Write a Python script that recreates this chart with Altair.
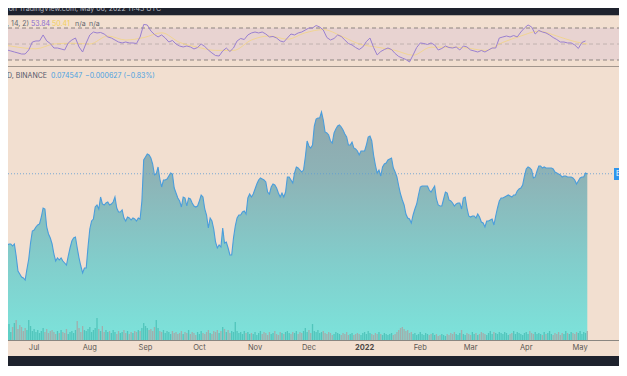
import altair as alt
import pandas as pd

START = "2021-06-12"

# ETH/BTC daily close, from 2021-06-12
price = [
    0.0657, 0.0631, 0.0623, 0.0615, 0.0603, 0.0605, 0.0605, 0.0601, 0.0605, 0.0581,
    0.0551, 0.0545, 0.0539, 0.0537, 0.0533, 0.0555, 0.0575, 0.0607, 0.0631, 0.0633,
    0.0639, 0.0643, 0.0645, 0.0659, 0.0677, 0.0675, 0.0639, 0.0625, 0.0617, 0.0605,
    0.0585, 0.0571, 0.0577, 0.0573, 0.0577, 0.0571, 0.0567, 0.0563, 0.0581, 0.0597,
    0.0611, 0.0617, 0.0619, 0.0597, 0.0577, 0.0561, 0.0547, 0.0557, 0.0557, 0.0599,
    0.0635, 0.0651, 0.0655, 0.0679, 0.0683, 0.0675, 0.0699, 0.0685, 0.0683, 0.0687,
    0.0689, 0.0683, 0.0685, 0.0689, 0.0699, 0.0677, 0.0669, 0.0669, 0.0673, 0.0657,
    0.0651, 0.0659, 0.0657, 0.0653, 0.0657, 0.0655, 0.0651, 0.0657, 0.0655, 0.0691,
    0.0773, 0.0779, 0.0785, 0.0783, 0.0777, 0.0765, 0.0743, 0.0745, 0.0759, 0.0735,
    0.0719, 0.0733, 0.0733, 0.0735, 0.0741, 0.0747, 0.0745, 0.0717, 0.0707, 0.0697,
    0.0691, 0.0679, 0.0699, 0.0697, 0.0681, 0.0697, 0.0695, 0.0687, 0.0681, 0.0679,
    0.0681, 0.0691, 0.0703, 0.0699, 0.0675, 0.0663, 0.0637, 0.0657, 0.0651, 0.0635,
    0.0609, 0.0597, 0.0603, 0.0599, 0.0637, 0.0607, 0.0609, 0.0597, 0.0583, 0.0583,
    0.0617, 0.0641, 0.0657, 0.0663, 0.0663, 0.0669, 0.0671, 0.0665, 0.0697, 0.0705,
    0.0699, 0.0705, 0.0715, 0.0725, 0.0733, 0.0737, 0.0735, 0.0733, 0.0729, 0.0709,
    0.0705, 0.0719, 0.0725, 0.0723, 0.0717, 0.0707, 0.0699, 0.0707, 0.0699, 0.0709,
    0.0739, 0.0739, 0.0733, 0.0727, 0.0747, 0.0759, 0.0757, 0.0753, 0.0749, 0.0753,
    0.0779, 0.0811, 0.0801, 0.0797, 0.0803, 0.0841, 0.0855, 0.0857, 0.0857, 0.0869,
    0.0853, 0.0829, 0.0827, 0.0823, 0.0811, 0.0807, 0.0827, 0.0835, 0.0841, 0.0843,
    0.0839, 0.0833, 0.0825, 0.0819, 0.0803, 0.0803, 0.0809, 0.0797, 0.0795, 0.0791,
    0.0783, 0.0791, 0.0791, 0.0791, 0.0803, 0.0819, 0.0821, 0.0811, 0.0783, 0.0763,
    0.0747, 0.0753, 0.0741, 0.0759, 0.0765, 0.0767, 0.0773, 0.0775, 0.0777, 0.0757,
    0.0749, 0.0739, 0.0721, 0.0705, 0.0693, 0.0683, 0.0665, 0.0657, 0.0655, 0.0647,
    0.0663, 0.0675, 0.0685, 0.0703, 0.0719, 0.0721, 0.0721, 0.0721, 0.0721, 0.0713,
    0.0709, 0.0715, 0.0721, 0.0695, 0.0683, 0.0681, 0.0681, 0.0695, 0.0709, 0.0707,
    0.0693, 0.0691, 0.0687, 0.0681, 0.0685, 0.0687, 0.0687, 0.0675, 0.0697, 0.0699,
    0.0677, 0.0661, 0.0659, 0.0661, 0.0661, 0.0657, 0.0665, 0.0659, 0.0649, 0.0647,
    0.0639, 0.0651, 0.0651, 0.0653, 0.0655, 0.0643, 0.0661, 0.0677, 0.0691, 0.0697,
    0.0697, 0.0699, 0.0701, 0.0703, 0.0701, 0.0699, 0.0703, 0.0703, 0.0711, 0.0715,
    0.0717, 0.0723, 0.0741, 0.0755, 0.0759, 0.0757, 0.0753, 0.0737, 0.0739, 0.0751,
    0.0761, 0.0761, 0.0757, 0.0759, 0.0757, 0.0757, 0.0757, 0.0757, 0.0755, 0.0749,
    0.0747, 0.0745, 0.0743, 0.0739, 0.0741, 0.0741, 0.0739, 0.0739, 0.0739, 0.0737,
    0.0733, 0.0725, 0.0731, 0.0737, 0.0739, 0.0739, 0.0747, 0.0745,
]

# daily volume (thousand ETH, estimated)
volume = [
    240, 200, 280, 180, 220, 320, 160, 260, 340, 400, 220, 300, 260, 180, 240, 200, 400, 280, 180, 220,
    160, 200, 140, 180, 240, 160, 220, 140, 180, 200, 160, 120, 180, 140, 200, 160, 140, 220, 120, 160,
    180, 140, 200, 380, 240, 160, 280, 200, 180, 220, 260, 160, 200, 240, 440, 220, 180, 280, 160, 200,
    160, 180, 140, 200, 160, 120, 180, 140, 160, 200, 140, 180, 120, 160, 140, 180, 160, 200, 180, 240,
    340, 280, 240, 200, 220, 180, 260, 400, 240, 180, 160, 200, 140, 180, 160, 120, 180, 140, 160, 120,
    140, 180, 120, 160, 140, 200, 120, 160, 140, 100, 160, 120, 180, 140, 120, 160, 200, 140, 120, 180,
    160, 200, 140, 180, 260, 220, 160, 200, 140, 180, 160, 360, 180, 140, 160, 120, 180, 140, 160, 120,
    140, 120, 160, 100, 140, 180, 120, 160, 140, 100, 160, 120, 140, 180, 120, 100, 160, 140, 120, 160,
    180, 140, 120, 160, 140, 180, 120, 160, 140, 180, 240, 160, 200, 140, 320, 180, 160, 200, 140, 160,
    180, 140, 120, 160, 140, 100, 120, 160, 140, 120, 100, 140, 120, 160, 100, 120, 140, 100, 120, 140,
    120, 100, 140, 160, 120, 180, 140, 120, 100, 140, 120, 160, 120, 100, 140, 120, 100, 120, 140, 100,
    120, 160, 200, 240, 260, 220, 180, 200, 140, 160, 120, 140, 100, 120, 160, 120, 100, 140, 120, 100,
    120, 140, 100, 120, 80, 100, 120, 100, 80, 120, 100, 140, 120, 160, 120, 100, 140, 200, 120, 100,
    140, 120, 100, 160, 120, 140, 100, 120, 160, 140, 120, 100, 140, 180, 120, 160, 140, 120, 160, 140,
    120, 160, 140, 100, 120, 140, 180, 120, 160, 140, 120, 100, 140, 160, 120, 180, 140, 120, 160, 120,
    140, 120, 100, 160, 120, 140, 180, 120, 100, 140, 120, 160, 100, 140, 120, 180, 140, 120, 160, 140,
    120, 160, 140, 180, 120, 160, 140, 180,
]

# RSI(14), every second day from START
rsi = [
    52.5, 47.5, 42.5, 41.3, 40, 38.8, 37.5, 37.5, 42.5, 52.5,
    53.8, 53.8, 61.3, 53.8, 50.6, 45, 45, 43.8, 42.5, 51.3,
    55, 57.5, 46.3, 40, 51.3, 61.3, 65, 63.8, 64.4, 62.5,
    58.8, 57.5, 55, 52.5, 51.3, 52.5, 51.3, 51.3, 50.6, 58.8,
    74.4, 73.8, 66.3, 61.9, 58.8, 61.3, 57.5, 52.5, 54.4, 50,
    47.5, 46.3, 47.5, 46.3, 43.8, 45.6, 50, 46.9, 42.5, 38.8,
    35.6, 35, 41.3, 45, 40.6, 45, 53.8, 56.9, 55.6, 61.3,
    63.8, 65, 63.8, 65, 62.5, 58.8, 59.4, 57.5, 53.8, 52.5,
    57.5, 62.5, 61.3, 63.8, 65, 67.5, 70, 70, 73.1, 71.3,
    67.5, 58.1, 55, 56.9, 61.3, 59.4, 55, 50.6, 48.8, 45.6,
    43.1, 46.3, 53.1, 57.5, 45.6, 36.3, 40.6, 43.1, 45, 43.1,
    38.1, 34.4, 32.5, 30.6, 27.5, 36.3, 45.6, 51.3, 50.6, 49.4,
    51.3, 48.8, 42.5, 44.4, 47.5, 45.6, 45, 46.3, 42.5, 47.5,
    46.3, 42.5, 41.3, 40, 41.9, 40, 42.5, 45, 45, 57.5,
    58.8, 60, 58.8, 60.6, 58.8, 65, 70, 73.8, 71.3, 62.5,
    66.9, 65, 63.8, 61.3, 58.1, 55.6, 52.5, 52.5, 51.3, 51.3,
    48.8, 44.4, 51.9, 53.8,
]

# RSI moving average (yellow), day offsets from START
rsi_ma_day = [0, 10, 20, 30, 40, 50, 60, 70, 80, 90, 100, 110, 120, 130, 140, 150, 160,
              170, 180, 190, 200, 210, 220, 230, 240, 250, 260, 270, 280, 290, 300, 310, 320, 327]
rsi_ma = [50, 46, 44, 50, 51, 50, 60, 55, 58, 64, 52, 46, 42, 42, 55, 60, 56,
          64, 68, 60, 50, 46, 42, 36, 46, 46, 45, 42, 52, 60, 66, 60, 53, 50]

rsi_levels_outer = [70, 30]
rsi_level_mid = [50]

month_dates = ["2021-07-01", "2021-08-01", "2021-09-01", "2021-10-01", "2021-11-01", "2021-12-01",
               "2022-01-01", "2022-02-01", "2022-03-01", "2022-04-01", "2022-05-01"]
month_labels = ["Jul", "Aug", "Sep", "Oct", "Nov", "Dec", "2022", "Feb", "Mar", "Apr", "May"]

last_price = 0.074547

W, H = 611, 358
FONT = "Inter"
BG = "#f2dfd0"

dates = pd.date_range(START, periods=len(price), freq="D").strftime("%Y-%m-%d")
df = pd.DataFrame({"date": dates, "price": price, "volume": volume})
df["dir"] = ["up" if i == 0 or price[i] >= price[i - 1] else "down" for i in range(len(price))]

rsi_df = pd.DataFrame({
    "date": pd.date_range(START, periods=len(rsi), freq="2D").strftime("%Y-%m-%d"),
    "rsi": rsi,
})
ma_df = pd.DataFrame({
    "date": (pd.Timestamp(START) + pd.to_timedelta(rsi_ma_day, unit="D")).strftime("%Y-%m-%d"),
    "rsi": rsi_ma,
})
mon_df = pd.DataFrame({"date": month_dates, "label": month_labels})

xscale = alt.Scale(
    type="utc",
    nice=False,
    padding=0,
    domain=[
        alt.DateTime(year=2021, month=6, date=16, hours=10, minutes=48, utc=True),
        alt.DateTime(year=2022, month=5, date=22, hours=15, minutes=36, utc=True),
    ],
)
X = alt.X("date:T", scale=xscale, axis=None)

pscale = alt.Scale(domain=[0.0413, 0.1077], range=[332, 0], zero=False, nice=False, padding=0)
vscale = alt.Scale(domain=[0, 400], range=[332, 312], zero=False, nice=False, padding=0)
rscale = alt.Scale(domain=[30, 70], range=[52, 20], zero=False, nice=False, padding=0)

XFULL = dict(x=alt.value(0), x2=alt.value(W))

one = pd.DataFrame({"k": [0]})

# RSI pane
rsi_band = alt.Chart(one).mark_rect(color="#e8d3d1").encode(
    y=alt.YDatum(70, scale=rscale, axis=None), y2=alt.Y2Datum(30), **XFULL)
rsi_rules = alt.Chart(pd.DataFrame({"level": rsi_levels_outer})).mark_rule(
    color="#8d8480", strokeDash=[4, 3], strokeWidth=1).encode(
    y=alt.Y("level:Q", scale=rscale, axis=None), **XFULL)
rsi_mid = alt.Chart(pd.DataFrame({"level": rsi_level_mid})).mark_rule(
    color="#a89e99", strokeDash=[4, 3], strokeWidth=1, opacity=0.6).encode(
    y=alt.Y("level:Q", scale=rscale, axis=None), **XFULL)
rsi_ma_line = alt.Chart(ma_df).mark_line(color="#f3d478", strokeWidth=1, opacity=0.7, clip=True,
                                         interpolate="monotone").encode(
    x=X, y=alt.Y("rsi:Q", scale=rscale, axis=None))
rsi_line = alt.Chart(rsi_df).mark_line(color="#9a80d0", strokeWidth=1, clip=True).encode(
    x=X, y=alt.Y("rsi:Q", scale=rscale, axis=None))

# separators
sep = alt.Chart(one).mark_rule(color="#a2968d", strokeWidth=1).encode(y=alt.value(58.5), **XFULL)
sep_top = alt.Chart(one).mark_rule(color="#b9ada3", strokeWidth=1).encode(y=alt.value(7.5), **XFULL)
axis_line = alt.Chart(one).mark_rule(color="#8a8681", strokeWidth=1).encode(y=alt.value(332.5), **XFULL)

# price pane
gradient = {
    "gradient": "linear", "x1": 1, "x2": 1, "y1": 0, "y2": 1,
    "stops": [
        {"offset": 0, "color": "#90a7ad"},
        {"offset": 0.3, "color": "#8db4b7"},
        {"offset": 0.65, "color": "#82cdcb"},
        {"offset": 1, "color": "#7ce3db"},
    ],
}
area = alt.Chart(df).mark_area(fill=gradient, clip=True).encode(
    x=X, y=alt.Y("price:Q", scale=pscale, axis=None), y2=alt.Y2Datum(0.0413))
vol = alt.Chart(df).mark_bar(size=1.3, clip=True, opacity=0.9).encode(
    x=X, y=alt.Y("volume:Q", scale=vscale, axis=None), y2=alt.Y2Datum(0),
    color=alt.Color("dir:N", scale=alt.Scale(domain=["up", "down"], range=["#4cc2b8", "#a5a9a7"]), legend=None))
line = alt.Chart(df).mark_line(color="#4a9ddb", strokeWidth=1.1, clip=True).encode(
    x=X, y=alt.Y("price:Q", scale=pscale, axis=None))
last_rule = alt.Chart(one).mark_rule(color="#5b9bd5", strokeDash=[1, 2], strokeWidth=1, opacity=0.8).encode(
    y=alt.YDatum(last_price, scale=pscale, axis=None), **XFULL)
tag = alt.Chart(one).mark_rect(color="#2f95ec").encode(
    x=alt.value(606), x2=alt.value(W + 10), y=alt.value(160), y2=alt.value(172))
tag_text = alt.Chart(one).mark_text(text="ETHBTC", color="white", fontSize=7, font=FONT,
                                    align="left", baseline="middle").encode(
    x=alt.value(608), y=alt.value(166))

# month labels
mon_norm = alt.Chart(mon_df).transform_filter(alt.datum.label != "2022").mark_text(
    fontSize=7.5, font=FONT, color="#5b5753", baseline="middle").encode(
    x=X, y=alt.value(340), text="label:N")
mon_bold = alt.Chart(mon_df).transform_filter(alt.datum.label == "2022").mark_text(
    fontSize=7.5, font=FONT, color="#4d4946", fontWeight="bold", baseline="middle").encode(
    x=X, y=alt.value(340), text="label:N")

# dark bars
top_bar = alt.Chart(one).mark_rect(color="#1e222d").encode(y=alt.value(-5), y2=alt.value(7), **XFULL)
bot_bar = alt.Chart(one).mark_rect(color="#1e222d").encode(y=alt.value(348), y2=alt.value(H + 5), **XFULL)


def txt(s, x, y, color, align="left", weight="normal", size=7):
    return alt.Chart(one).mark_text(text=s, color=color, fontSize=size, font=FONT, align=align,
                                    baseline="middle", fontWeight=weight).encode(
        x=alt.value(x), y=alt.value(y))


texts = [
    txt("Published on TradingView.com, May 06, 2022 11:43 UTC", 153, 0.5, "#b5b8c0", align="right"),
    txt("RSI (14, close, SMA, 14, 2)", 21, 16, "#63666f", align="right"),
    txt("53.84", 23, 16, "#8a6cd0"),
    txt("50.41", 44, 16, "#f2cf5c"),
    txt("n/a", 67, 16, "#63666f"),
    txt("n/a", 81, 16, "#63666f"),
    txt("ETH / Bitcoin, 1D, BINANCE", 39, 68, "#55586a", align="right"),
    txt("0.074547", 43, 68, "#4a9fe0"),
    txt("\u22120.000627 (\u22120.83%)", 77, 68, "#4a9fe0"),
]

chart = alt.layer(
    rsi_band, rsi_rules, rsi_mid, rsi_ma_line, rsi_line,
    area, vol, line, last_rule, sep, sep_top, axis_line,
    mon_norm, mon_bold, top_bar, bot_bar, tag, tag_text, *texts,
).resolve_scale(y="independent").properties(
    width=W, height=H, background=BG, padding=0,
    autosize=alt.AutoSizeParams(type="none"),
).configure_view(stroke=None)

chart.save("out.html", embed_options={"renderer": "svg", "actions": False})
